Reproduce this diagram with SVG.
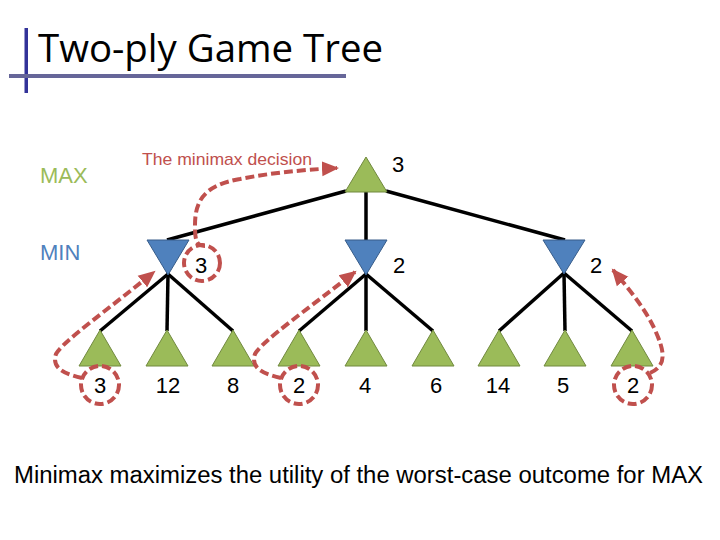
<svg xmlns="http://www.w3.org/2000/svg" width="720" height="540" viewBox="0 0 720 540">
<defs>
<style>
.max{fill:#9BBB59;stroke:#71893F;stroke-width:1}
.min{fill:#4F81BD;stroke:#385D8A;stroke-width:1}
.edge{stroke:#000;stroke-width:3.5;fill:none}
.num{font-family:"Liberation Sans",Arial,sans-serif;font-size:22px;fill:#000;text-anchor:middle}
.red{stroke:#C0504D;stroke-width:4;stroke-dasharray:9 4;fill:none}
</style>
<marker id="ah" markerUnits="userSpaceOnUse" markerWidth="18" markerHeight="18" refX="15" refY="9" orient="auto">
<path d="M0,1.5 L17,9 L0,16.5 Z" fill="#C0504D" stroke="none"/>
</marker>
</defs>
<rect width="720" height="540" fill="#fff"/>
<g id="title">
<rect x="24.5" y="28" width="3.5" height="65" fill="#333399"/>
<rect x="9" y="74" width="337" height="4" fill="#666699"/>
<text x="38" y="62" font-family="'Open Sans','Noto Sans',sans-serif" font-size="38" textLength="345" lengthAdjust="spacingAndGlyphs" fill="#000">Two-ply Game Tree</text>
</g>
<g id="labels" font-family="'Liberation Sans',Arial,sans-serif" font-size="22">
<text x="40" y="183" fill="#9BBB59">MAX</text>
<text x="40" y="260" fill="#4F81BD">MIN</text>
</g>
<g id="connectors">
<line class="edge" x1="346" y1="191" x2="167" y2="240"/>
<line class="edge" x1="366" y1="191" x2="366" y2="241"/>
<line class="edge" x1="386" y1="191" x2="565" y2="240"/>
<line class="edge" x1="168" y1="274" x2="100" y2="331"/>
<line class="edge" x1="168" y1="274" x2="167" y2="331"/>
<line class="edge" x1="168" y1="274" x2="233" y2="331"/>
<line class="edge" x1="366" y1="274" x2="299" y2="331"/>
<line class="edge" x1="366" y1="274" x2="366" y2="331"/>
<line class="edge" x1="366" y1="274" x2="433" y2="331"/>
<line class="edge" x1="564" y1="273" x2="499" y2="331"/>
<line class="edge" x1="564" y1="273" x2="565" y2="331"/>
<line class="edge" x1="564" y1="273" x2="632" y2="331"/>
</g>
<g id="root">
<polygon class="max" points="366,157 387,192 345,192"/>
<text class="num" x="398" y="172">3</text>
</g>
<g id="min1">
<polygon class="min" points="147,240 189,240 168,275"/>
<text class="num" x="201" y="273">3</text>
</g>
<g id="min2">
<polygon class="min" points="345,240 387,240 366,275"/>
<text class="num" x="399" y="273">2</text>
</g>
<g id="min3">
<polygon class="min" points="543,240 585,240 564,274"/>
<text class="num" x="596" y="273">2</text>
</g>
<g id="leaf1"><polygon class="max" points="100,330 121,366 79,366"/><text class="num" x="100" y="393">3</text></g>
<g id="leaf2"><polygon class="max" points="167,330 188,366 146,366"/><text class="num" x="168" y="393">12</text></g>
<g id="leaf3"><polygon class="max" points="233,330 254,366 212,366"/><text class="num" x="233" y="393">8</text></g>
<g id="leaf4"><polygon class="max" points="299,330 320,366 278,366"/><text class="num" x="299" y="393">2</text></g>
<g id="leaf5"><polygon class="max" points="366,330 387,366 345,366"/><text class="num" x="365" y="393">4</text></g>
<g id="leaf6"><polygon class="max" points="433,330 454,366 412,366"/><text class="num" x="436" y="393">6</text></g>
<g id="leaf7"><polygon class="max" points="499,330 520,366 478,366"/><text class="num" x="498" y="393">14</text></g>
<g id="leaf8"><polygon class="max" points="565,330 586,366 544,366"/><text class="num" x="563" y="393">5</text></g>
<g id="leaf9"><polygon class="max" points="632,330 653,366 611,366"/><text class="num" x="633" y="393">2</text></g>
<g id="annotations">
<circle class="red" cx="100" cy="385" r="19"/>
<circle class="red" cx="299" cy="385" r="19"/>
<circle class="red" cx="633" cy="385" r="19"/>
<circle class="red" cx="202" cy="263" r="18"/>
<path class="red" marker-end="url(#ah)" d="M82,378 C60,373 52,366 56,354 C62,342 110,308 154,272"/>
<path class="red" marker-end="url(#ah)" d="M281,378 C259,373 251,366 255,354 C261,342 309,308 355,272"/>
<path class="red" marker-end="url(#ah)" d="M650,373 C668,365 664,350 655,330 C645,308 628,288 613,270"/>
<path class="red" marker-end="url(#ah)" d="M205,246 C196,246 195,240 195,225 C195,200 205,185 240,179 C270,173 300,170 337,168"/>
<text x="142" y="165" font-family="'Liberation Sans',Arial,sans-serif" font-size="17" fill="#C0504D" textLength="170" lengthAdjust="spacingAndGlyphs">The minimax decision</text>
</g>
<g id="caption">
<text x="14" y="483" font-family="'Liberation Sans',Arial,sans-serif" font-size="23" fill="#000" textLength="689" lengthAdjust="spacingAndGlyphs">Minimax maximizes the utility of the worst-case outcome for MAX</text>
</g>
</svg>
